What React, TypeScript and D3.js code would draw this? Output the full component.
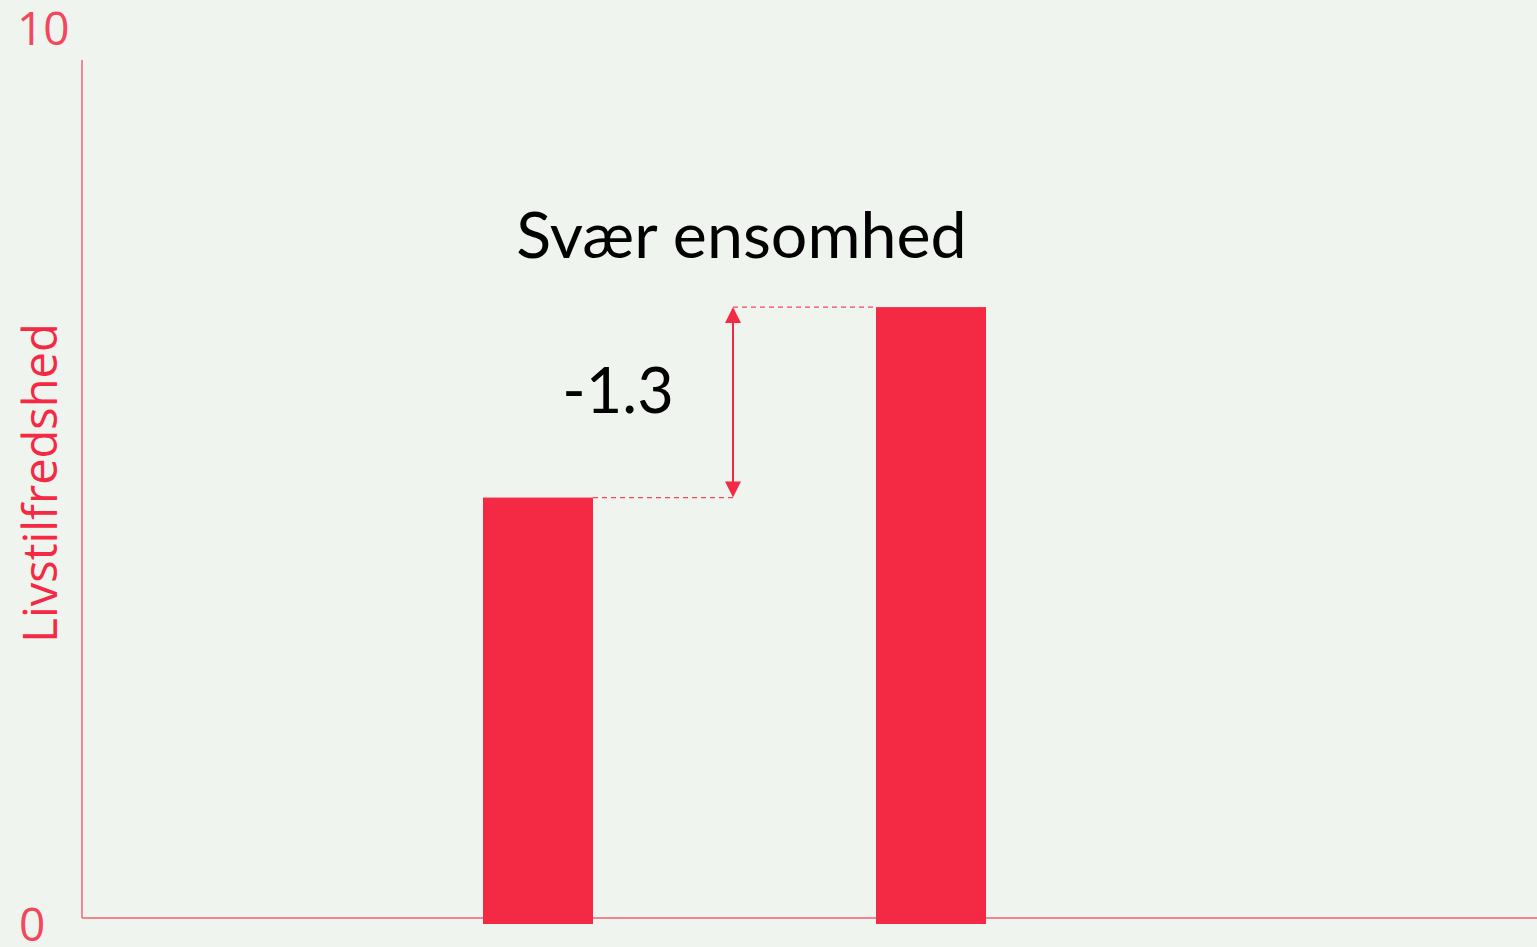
import React, { useEffect } from "react";
import * as d3 from "d3";

const categories = ["Svær ensomhed", "Ingen ensomhed"];
const values = [4.9, 7.12];
const yTicks = [0, 10];
const diffLabel = "-1.3";
const titleText = "Svær ensomhed";
const yLabel = "Livstilfredshed";

const W = 1537;
const H = 947;
const BG = "#eff5ee";
const RED = "#f42a45";
const AXIS = "#f0606f";
const FONT = "Lato, 'Open Sans', sans-serif";
const FONT2 = "'Open Sans', 'Noto Sans', sans-serif";

export default function App() {
  useEffect(() => {
    document.body.style.margin = "0";
    document.body.style.background = BG;
  }, []);

  const y = d3.scaleLinear().domain([0, 10]).range([918, 60]);
  const x = d3.scalePoint<string>().domain(categories).range([538, 931]);
  const barW = 110;
  const arrowX = 733;

  const y0 = values[0];
  const y1 = values[1];

  return (
    <svg width={W} height={H} style={{ display: "block", background: BG }}>
      <rect x={0} y={0} width={W} height={H} fill={BG} />
      {/* axes */}
      <line x1={82} x2={82} y1={y(10)} y2={y(0)} stroke={AXIS} strokeWidth={1.5} />
      <line x1={82} x2={W} y1={y(0)} y2={y(0)} stroke={AXIS} strokeWidth={1.5} />
      {yTicks.map((t) => (
        <text
          key={t}
          x={t === 0 ? 19 : 17}
          y={t === 0 ? y(t) + 23 : y(t) - 15}
          textAnchor="start"
          fontFamily={FONT2}
          fontSize={46}
          fill="#f2475c"
        >
          {t}
        </text>
      ))}
      <text
        transform={`translate(57, ${483}) rotate(-90)`}
        textAnchor="middle"
        fontFamily={FONT2}
        fontSize={47}
        fill={RED}
      >
        {yLabel}
      </text>
      {/* bars */}
      {categories.map((c, i) => (
        <rect
          key={c}
          x={(x(c) as number) - barW / 2}
          y={y(values[i])}
          width={barW}
          height={y(0) + 6 - y(values[i])}
          fill={RED}
        />
      ))}
      {/* dashed connectors */}
      <line
        x1={(x(categories[0]) as number) + barW / 2}
        x2={arrowX}
        y1={y(y0)}
        y2={y(y0)}
        stroke="#f2475c"
        strokeWidth={1.3}
        strokeDasharray="5,4"
      />
      <line
        x1={arrowX}
        x2={(x(categories[1]) as number) - barW / 2}
        y1={y(y1)}
        y2={y(y1)}
        stroke="#f2475c"
        strokeWidth={1.3}
        strokeDasharray="5,4"
      />
      {/* arrow */}
      <line x1={arrowX} x2={arrowX} y1={y(y1) + 12} y2={y(y0) - 12} stroke={RED} strokeWidth={2} />
      <path
        d={`M${arrowX},${y(y1)} L${arrowX - 8},${y(y1) + 16} L${arrowX + 8},${y(y1) + 16} Z`}
        fill={RED}
      />
      <path
        d={`M${arrowX},${y(y0)} L${arrowX - 8},${y(y0) - 16} L${arrowX + 8},${y(y0) - 16} Z`}
        fill={RED}
      />
      <text x={618} y={413} textAnchor="middle" fontFamily={FONT} fontSize={63} fill="#000">
        {diffLabel}
      </text>
      <text x={741.5} y={258} textAnchor="middle" fontFamily={FONT} fontSize={64.5} fill="#000">
        {titleText}
      </text>
    </svg>
  );
}
